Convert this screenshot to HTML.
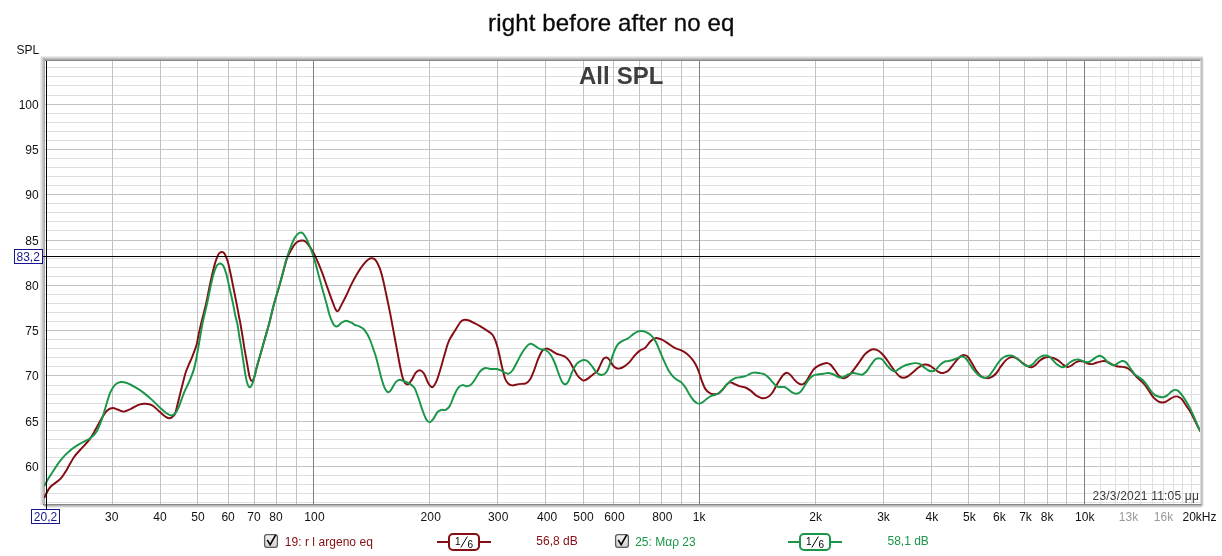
<!DOCTYPE html>
<html><head><meta charset="utf-8"><title>right before after no eq</title>
<style>
html,body{margin:0;padding:0;background:#fff;}
body{width:1222px;height:556px;position:relative;overflow:hidden;font-family:"Liberation Sans",sans-serif;}
svg text{font-family:"Liberation Sans",sans-serif;}
</style></head><body>
<svg width="1222" height="556" viewBox="0 0 1222 556" style="position:absolute;left:0;top:0;will-change:transform">
<defs>
<linearGradient id="gt" x1="0" y1="0" x2="0" y2="1"><stop offset="0" stop-color="#f4f4f4"/><stop offset="0.5" stop-color="#c4c4c4"/><stop offset="1" stop-color="#7c7c7c"/></linearGradient>
<linearGradient id="gl" x1="0" y1="0" x2="1" y2="0"><stop offset="0" stop-color="#f6f6f6"/><stop offset="1" stop-color="#a4a4a4"/></linearGradient>
<linearGradient id="gr" x1="0" y1="0" x2="1" y2="0"><stop offset="0" stop-color="#a8a8a8"/><stop offset="1" stop-color="#f4f4f4"/></linearGradient>
<linearGradient id="gb" x1="0" y1="0" x2="0" y2="1"><stop offset="0" stop-color="#8c8c8c"/><stop offset="1" stop-color="#fafafa"/></linearGradient>
<linearGradient id="cb" x1="0" y1="0" x2="0" y2="1"><stop offset="0" stop-color="#f4f4f4"/><stop offset="0.5" stop-color="#e4e4e4"/><stop offset="1" stop-color="#cfcfcf"/></linearGradient>
<clipPath id="cp"><rect x="44" y="61" width="1156" height="442"/></clipPath>
</defs>
<rect x="41" y="56" width="1162" height="5" fill="url(#gt)"/>
<rect x="40" y="58" width="5" height="447" fill="url(#gl)"/>
<rect x="1200" y="59" width="1" height="447" fill="#bdbdbd"/>
<rect x="1201" y="59" width="1" height="447" fill="#bebebe"/>
<rect x="1202" y="59" width="1" height="447" fill="#cfcfcf"/>
<rect x="1203" y="59" width="1" height="447" fill="#ececec"/>
<rect x="43" y="504" width="1158" height="1" fill="#878787"/>
<rect x="43" y="505" width="1158" height="1" fill="#b2b2b2"/>
<rect x="44" y="506" width="1158" height="1" fill="#d0d0d0"/>
<rect x="44" y="507" width="1158" height="1" fill="#ececec"/>
<rect x="45" y="61" width="1155" height="443" fill="#fff"/>
<rect x="45" y="502" width="1155" height="1" fill="#dedede"/>
<rect x="45" y="493" width="1155" height="1" fill="#dedede"/>
<rect x="45" y="484" width="1155" height="1" fill="#dedede"/>
<rect x="45" y="475" width="1155" height="1" fill="#dedede"/>
<rect x="45" y="466" width="1155" height="1" fill="#c2c2c2"/>
<rect x="45" y="457" width="1155" height="1" fill="#dedede"/>
<rect x="45" y="448" width="1155" height="1" fill="#dedede"/>
<rect x="45" y="439" width="1155" height="1" fill="#dedede"/>
<rect x="45" y="430" width="1155" height="1" fill="#dedede"/>
<rect x="45" y="421" width="1155" height="1" fill="#c2c2c2"/>
<rect x="45" y="412" width="1155" height="1" fill="#dedede"/>
<rect x="45" y="403" width="1155" height="1" fill="#dedede"/>
<rect x="45" y="394" width="1155" height="1" fill="#dedede"/>
<rect x="45" y="385" width="1155" height="1" fill="#dedede"/>
<rect x="45" y="375" width="1155" height="1" fill="#c2c2c2"/>
<rect x="45" y="366" width="1155" height="1" fill="#dedede"/>
<rect x="45" y="357" width="1155" height="1" fill="#dedede"/>
<rect x="45" y="348" width="1155" height="1" fill="#dedede"/>
<rect x="45" y="339" width="1155" height="1" fill="#dedede"/>
<rect x="45" y="330" width="1155" height="1" fill="#c2c2c2"/>
<rect x="45" y="321" width="1155" height="1" fill="#dedede"/>
<rect x="45" y="312" width="1155" height="1" fill="#dedede"/>
<rect x="45" y="303" width="1155" height="1" fill="#dedede"/>
<rect x="45" y="294" width="1155" height="1" fill="#dedede"/>
<rect x="45" y="285" width="1155" height="1" fill="#c2c2c2"/>
<rect x="45" y="276" width="1155" height="1" fill="#dedede"/>
<rect x="45" y="267" width="1155" height="1" fill="#dedede"/>
<rect x="45" y="258" width="1155" height="1" fill="#dedede"/>
<rect x="45" y="249" width="1155" height="1" fill="#dedede"/>
<rect x="45" y="240" width="1155" height="1" fill="#c2c2c2"/>
<rect x="45" y="230" width="1155" height="1" fill="#dedede"/>
<rect x="45" y="221" width="1155" height="1" fill="#dedede"/>
<rect x="45" y="212" width="1155" height="1" fill="#dedede"/>
<rect x="45" y="203" width="1155" height="1" fill="#dedede"/>
<rect x="45" y="194" width="1155" height="1" fill="#c2c2c2"/>
<rect x="45" y="185" width="1155" height="1" fill="#dedede"/>
<rect x="45" y="176" width="1155" height="1" fill="#dedede"/>
<rect x="45" y="167" width="1155" height="1" fill="#dedede"/>
<rect x="45" y="158" width="1155" height="1" fill="#dedede"/>
<rect x="45" y="149" width="1155" height="1" fill="#c2c2c2"/>
<rect x="45" y="140" width="1155" height="1" fill="#dedede"/>
<rect x="45" y="131" width="1155" height="1" fill="#dedede"/>
<rect x="45" y="122" width="1155" height="1" fill="#dedede"/>
<rect x="45" y="113" width="1155" height="1" fill="#dedede"/>
<rect x="45" y="104" width="1155" height="1" fill="#c2c2c2"/>
<rect x="45" y="95" width="1155" height="1" fill="#dedede"/>
<rect x="45" y="85" width="1155" height="1" fill="#dedede"/>
<rect x="45" y="76" width="1155" height="1" fill="#dedede"/>
<rect x="45" y="67" width="1155" height="1" fill="#dedede"/>
<rect x="112" y="61" width="1" height="443" fill="#c2c2c2"/>
<rect x="160" y="61" width="1" height="443" fill="#c2c2c2"/>
<rect x="197" y="61" width="1" height="443" fill="#c2c2c2"/>
<rect x="228" y="61" width="1" height="443" fill="#c2c2c2"/>
<rect x="254" y="61" width="1" height="443" fill="#c2c2c2"/>
<rect x="276" y="61" width="1" height="443" fill="#c2c2c2"/>
<rect x="296" y="61" width="1" height="443" fill="#c2c2c2"/>
<rect x="313" y="61" width="1" height="443" fill="#808080"/>
<rect x="429" y="61" width="1" height="443" fill="#c2c2c2"/>
<rect x="497" y="61" width="1" height="443" fill="#c2c2c2"/>
<rect x="545" y="61" width="1" height="443" fill="#c2c2c2"/>
<rect x="583" y="61" width="1" height="443" fill="#c2c2c2"/>
<rect x="613" y="61" width="1" height="443" fill="#c2c2c2"/>
<rect x="639" y="61" width="1" height="443" fill="#c2c2c2"/>
<rect x="661" y="61" width="1" height="443" fill="#c2c2c2"/>
<rect x="681" y="61" width="1" height="443" fill="#c2c2c2"/>
<rect x="699" y="61" width="1" height="443" fill="#808080"/>
<rect x="815" y="61" width="1" height="443" fill="#c2c2c2"/>
<rect x="883" y="61" width="1" height="443" fill="#c2c2c2"/>
<rect x="931" y="61" width="1" height="443" fill="#c2c2c2"/>
<rect x="968" y="61" width="1" height="443" fill="#c2c2c2"/>
<rect x="999" y="61" width="1" height="443" fill="#c2c2c2"/>
<rect x="1024" y="61" width="1" height="443" fill="#c2c2c2"/>
<rect x="1047" y="61" width="1" height="443" fill="#c2c2c2"/>
<rect x="1066" y="61" width="1" height="443" fill="#c2c2c2"/>
<rect x="1084" y="61" width="1" height="443" fill="#808080"/>
<rect x="1100" y="61" width="1" height="443" fill="#dedede"/>
<rect x="1115" y="61" width="1" height="443" fill="#dedede"/>
<rect x="1128" y="61" width="1" height="443" fill="#dedede"/>
<rect x="1140" y="61" width="1" height="443" fill="#dedede"/>
<rect x="1152" y="61" width="1" height="443" fill="#dedede"/>
<rect x="1163" y="61" width="1" height="443" fill="#dedede"/>
<rect x="1173" y="61" width="1" height="443" fill="#dedede"/>
<rect x="1182" y="61" width="1" height="443" fill="#dedede"/>
<rect x="1191" y="61" width="1" height="443" fill="#dedede"/>
<rect x="1200" y="61" width="1" height="443" fill="#dedede"/>
<text x="578.9" y="83.8" font-family="Liberation Sans, sans-serif" font-weight="bold" font-size="24" letter-spacing="0.1" fill="#3e3e3e">All SPL</text>
<text x="1092.6" y="499.7" font-family="Liberation Sans, sans-serif" font-size="12" letter-spacing="0.19" fill="#3a3a3a">23/3/2021 11:05 μμ</text>
<g clip-path="url(#cp)" fill="none" stroke-width="1.95" stroke-linejoin="round" stroke-linecap="round">
<path d="M44.50 497.30C45.47 495.58 47.60 490.10 50.30 487.00C53.00 483.90 57.93 481.63 60.70 478.70C63.47 475.77 64.67 473.02 66.90 469.40C69.13 465.78 71.70 460.45 74.10 457.00C76.50 453.55 78.72 451.63 81.30 448.70C83.88 445.77 87.18 442.67 89.60 439.40C92.02 436.13 93.73 432.72 95.80 429.10C97.87 425.48 100.10 420.80 102.00 417.70C103.90 414.60 105.43 412.12 107.20 410.50C108.97 408.88 110.87 408.17 112.60 408.00C114.33 407.83 115.73 408.90 117.60 409.50C119.47 410.10 121.57 411.72 123.80 411.60C126.03 411.48 128.42 409.97 131.00 408.80C133.58 407.63 136.88 405.43 139.30 404.60C141.72 403.77 143.35 403.67 145.50 403.80C147.65 403.93 149.88 404.12 152.20 405.40C154.52 406.68 157.17 409.62 159.40 411.50C161.63 413.38 163.83 415.57 165.60 416.70C167.37 417.83 168.53 418.62 170.00 418.30C171.47 417.98 173.42 416.02 174.40 414.80C175.38 413.58 175.30 413.07 175.90 411.00C176.50 408.93 177.20 405.63 178.00 402.40C178.80 399.17 179.78 395.23 180.70 391.60C181.62 387.97 182.63 383.90 183.50 380.60C184.37 377.30 185.02 374.47 185.90 371.80C186.78 369.13 187.83 366.88 188.80 364.60C189.77 362.32 190.75 360.38 191.70 358.10C192.65 355.82 193.67 353.17 194.50 350.90C195.33 348.63 196.10 346.77 196.70 344.50C197.30 342.23 197.62 339.70 198.10 337.30C198.58 334.90 199.05 332.57 199.60 330.10C200.15 327.63 200.28 327.08 201.40 322.50C202.52 317.92 205.00 308.32 206.30 302.60C207.60 296.88 208.17 293.10 209.20 288.20C210.23 283.30 211.43 277.67 212.50 273.20C213.57 268.73 214.63 264.50 215.60 261.40C216.57 258.30 217.55 256.07 218.30 254.60C219.05 253.13 219.52 253.03 220.10 252.60C220.68 252.17 221.23 252.00 221.80 252.00C222.37 252.00 222.93 252.13 223.50 252.60C224.07 253.07 224.48 253.27 225.20 254.80C225.92 256.33 226.92 258.72 227.80 261.80C228.68 264.88 229.55 268.90 230.50 273.30C231.45 277.70 232.52 283.32 233.50 288.20C234.48 293.08 235.48 297.88 236.40 302.60C237.32 307.32 238.35 313.10 239.00 316.50C239.65 319.90 239.60 319.02 240.30 323.00C241.00 326.98 242.50 336.10 243.20 340.40C243.90 344.70 243.83 344.90 244.50 348.80C245.17 352.70 246.37 359.18 247.20 363.80C248.03 368.42 248.72 373.63 249.50 376.50C250.28 379.37 251.10 380.92 251.90 381.00C252.70 381.08 253.45 379.42 254.30 377.00C255.15 374.58 255.92 370.45 257.00 366.50C258.08 362.55 259.55 357.72 260.80 353.30C262.05 348.88 263.05 345.18 264.50 340.00C265.95 334.82 267.97 328.00 269.50 322.20C271.03 316.40 271.92 311.75 273.70 305.20C275.48 298.65 278.22 289.93 280.20 282.90C282.18 275.87 284.40 267.25 285.60 263.00C286.80 258.75 286.50 259.53 287.40 257.40C288.30 255.27 289.68 252.48 291.00 250.20C292.32 247.92 293.98 245.22 295.30 243.70C296.62 242.18 297.82 241.63 298.90 241.10C299.98 240.57 300.72 240.43 301.80 240.50C302.88 240.57 304.08 240.48 305.40 241.50C306.72 242.52 308.27 244.55 309.70 246.60C311.13 248.65 312.57 251.05 314.00 253.80C315.43 256.55 316.87 259.75 318.30 263.10C319.73 266.45 321.17 270.05 322.60 273.90C324.03 277.75 325.52 282.30 326.90 286.20C328.28 290.10 329.78 294.22 330.90 297.30C332.02 300.38 332.83 302.70 333.60 304.70C334.37 306.70 334.90 308.20 335.50 309.30C336.10 310.40 336.63 311.18 337.20 311.30C337.77 311.42 338.30 310.87 338.90 310.00C339.50 309.13 339.72 308.22 340.80 306.10C341.88 303.98 343.63 300.92 345.40 297.30C347.17 293.68 349.42 288.37 351.40 284.40C353.38 280.43 355.32 276.80 357.30 273.50C359.28 270.20 361.42 266.97 363.30 264.60C365.18 262.23 367.13 260.35 368.60 259.30C370.07 258.25 370.90 258.13 372.10 258.30C373.30 258.47 374.50 258.58 375.80 260.30C377.10 262.02 378.68 265.32 379.90 268.60C381.12 271.88 382.05 275.70 383.10 280.00C384.15 284.30 385.00 288.72 386.20 294.40C387.40 300.08 388.95 307.25 390.30 314.10C391.65 320.95 393.13 329.27 394.30 335.50C395.47 341.73 396.30 346.17 397.30 351.50C398.30 356.83 399.28 362.77 400.30 367.50C401.32 372.23 402.20 377.07 403.40 379.90C404.60 382.73 406.12 384.50 407.50 384.50C408.88 384.50 410.32 381.87 411.70 379.90C413.08 377.93 414.43 374.32 415.80 372.70C417.17 371.08 418.52 370.03 419.90 370.20C421.28 370.37 422.72 371.57 424.10 373.70C425.48 375.83 426.82 380.75 428.20 383.00C429.58 385.25 431.02 387.50 432.40 387.20C433.78 386.90 435.20 384.07 436.50 381.20C437.80 378.33 438.98 373.98 440.20 370.00C441.42 366.02 442.52 361.72 443.80 357.30C445.08 352.88 446.70 346.88 447.90 343.50C449.10 340.12 449.92 338.98 451.00 337.00C452.08 335.02 452.88 334.02 454.40 331.60C455.92 329.18 458.67 324.40 460.10 322.50C461.53 320.60 462.15 320.67 463.00 320.20C463.85 319.73 464.20 319.65 465.20 319.70C466.20 319.75 467.37 319.88 469.00 320.50C470.63 321.12 473.17 322.45 475.00 323.40C476.83 324.35 477.80 324.87 480.00 326.20C482.20 327.53 486.15 330.02 488.20 331.40C490.25 332.78 491.10 332.95 492.30 334.50C493.50 336.05 494.37 337.95 495.40 340.70C496.43 343.45 497.43 346.78 498.50 351.00C499.57 355.22 500.72 361.42 501.80 366.00C502.88 370.58 503.93 375.58 505.00 378.50C506.07 381.42 507.00 382.35 508.20 383.50C509.40 384.65 510.47 385.30 512.20 385.40C513.93 385.50 516.33 384.45 518.60 384.10C520.87 383.75 523.90 384.05 525.80 383.30C527.70 382.55 528.62 381.77 530.00 379.60C531.38 377.43 532.73 373.75 534.10 370.30C535.47 366.85 536.82 362.18 538.20 358.90C539.58 355.62 541.02 352.32 542.40 350.60C543.78 348.88 545.13 348.67 546.50 348.60C547.87 348.53 549.05 349.42 550.60 350.20C552.15 350.98 554.07 352.47 555.80 353.30C557.53 354.13 559.45 354.62 561.00 355.20C562.55 355.78 563.72 355.83 565.10 356.80C566.48 357.77 567.92 359.10 569.30 361.00C570.68 362.90 572.03 365.78 573.40 368.20C574.77 370.62 576.12 373.60 577.50 375.50C578.88 377.40 580.67 378.75 581.70 379.60C582.73 380.45 582.67 380.77 583.70 380.60C584.73 380.43 586.35 379.63 587.90 378.60C589.45 377.57 591.45 375.62 593.00 374.40C594.55 373.18 595.98 372.85 597.20 371.30C598.42 369.75 599.27 367.17 600.30 365.10C601.33 363.03 602.37 360.17 603.40 358.90C604.43 357.63 605.47 357.32 606.50 357.50C607.53 357.68 608.57 358.73 609.60 360.00C610.63 361.27 611.67 363.80 612.70 365.10C613.73 366.40 614.77 367.22 615.80 367.80C616.83 368.38 617.53 368.80 618.90 368.60C620.27 368.40 622.28 367.63 624.00 366.60C625.72 365.57 627.47 364.20 629.20 362.40C630.93 360.60 632.63 357.77 634.40 355.80C636.17 353.83 638.00 351.93 639.80 350.60C641.60 349.27 643.48 349.27 645.20 347.80C646.92 346.33 648.52 343.37 650.10 341.80C651.68 340.23 653.42 339.00 654.70 338.40C655.98 337.80 656.47 337.93 657.80 338.20C659.13 338.47 660.85 339.02 662.70 340.00C664.55 340.98 666.83 342.73 668.90 344.10C670.97 345.47 673.03 347.17 675.10 348.20C677.17 349.23 679.40 349.43 681.30 350.30C683.20 351.17 684.77 352.02 686.50 353.40C688.23 354.78 690.15 356.70 691.70 358.60C693.25 360.50 694.60 362.57 695.80 364.80C697.00 367.03 697.87 369.25 698.90 372.00C699.93 374.75 700.97 378.53 702.00 381.30C703.03 384.07 703.88 386.70 705.10 388.60C706.32 390.50 707.92 391.75 709.30 392.70C710.68 393.65 711.85 394.20 713.40 394.30C714.95 394.40 717.05 394.08 718.60 393.30C720.15 392.52 721.33 391.08 722.70 389.60C724.07 388.12 725.53 385.60 726.80 384.40C728.07 383.20 729.08 382.50 730.30 382.40C731.52 382.30 732.62 383.18 734.10 383.80C735.58 384.42 737.32 385.48 739.20 386.10C741.08 386.72 743.50 386.75 745.40 387.50C747.30 388.25 748.87 389.32 750.60 390.60C752.33 391.88 754.25 394.07 755.80 395.20C757.35 396.33 758.60 396.88 759.90 397.40C761.20 397.92 762.22 398.40 763.60 398.30C764.98 398.20 766.75 397.73 768.20 396.80C769.65 395.87 770.93 394.58 772.30 392.70C773.67 390.82 775.07 387.78 776.40 385.50C777.73 383.22 779.13 380.78 780.30 379.00C781.47 377.22 782.32 375.83 783.40 374.80C784.48 373.77 785.60 372.75 786.80 372.80C788.00 372.85 789.28 373.88 790.60 375.10C791.92 376.32 793.37 378.72 794.70 380.10C796.03 381.48 797.33 382.68 798.60 383.40C799.87 384.12 801.10 384.65 802.30 384.40C803.50 384.15 804.52 383.45 805.80 381.90C807.08 380.35 808.62 377.27 810.00 375.10C811.38 372.93 812.73 370.45 814.10 368.90C815.47 367.35 816.65 366.67 818.20 365.80C819.75 364.93 821.85 364.15 823.40 363.70C824.95 363.25 826.30 362.92 827.50 363.10C828.70 363.28 829.38 363.65 830.60 364.80C831.82 365.95 833.42 368.18 834.80 370.00C836.18 371.82 837.35 374.33 838.90 375.70C840.45 377.07 842.37 378.30 844.10 378.20C845.83 378.10 847.58 376.65 849.30 375.10C851.02 373.55 852.68 371.13 854.40 368.90C856.12 366.67 857.87 364.12 859.60 361.70C861.33 359.28 863.08 356.30 864.80 354.40C866.52 352.50 868.35 351.15 869.90 350.30C871.45 349.45 872.55 349.13 874.10 349.30C875.65 349.47 877.48 350.10 879.20 351.30C880.92 352.50 882.67 354.43 884.40 356.50C886.13 358.57 887.88 361.28 889.60 363.70C891.32 366.12 892.98 368.85 894.70 371.00C896.42 373.15 898.35 375.47 899.90 376.60C901.45 377.73 902.62 377.87 904.00 377.80C905.38 377.73 906.65 377.17 908.20 376.20C909.75 375.23 911.58 373.45 913.30 372.00C915.02 370.55 916.82 368.70 918.50 367.50C920.18 366.30 921.90 365.25 923.40 364.80C924.90 364.35 926.13 364.47 927.50 364.80C928.87 365.13 930.22 365.90 931.60 366.80C932.98 367.70 934.43 369.25 935.80 370.20C937.17 371.15 938.57 372.03 939.80 372.50C941.03 372.97 941.85 373.25 943.20 373.00C944.55 372.75 946.25 372.37 947.90 371.00C949.55 369.63 951.55 366.70 953.10 364.80C954.65 362.90 955.83 361.08 957.20 359.60C958.57 358.12 960.10 356.65 961.30 355.90C962.50 355.15 963.37 355.00 964.40 355.10C965.43 355.20 966.28 355.23 967.50 356.50C968.72 357.77 970.32 360.45 971.70 362.70C973.08 364.95 974.25 367.75 975.80 370.00C977.35 372.25 979.45 374.90 981.00 376.20C982.55 377.50 983.90 377.47 985.10 377.80C986.30 378.13 986.98 378.40 988.20 378.20C989.42 378.00 991.02 377.47 992.40 376.60C993.78 375.73 995.13 374.63 996.50 373.00C997.87 371.37 999.22 368.75 1000.60 366.80C1001.98 364.85 1003.42 362.77 1004.80 361.30C1006.18 359.83 1007.53 358.70 1008.90 358.00C1010.27 357.30 1011.62 357.00 1013.00 357.10C1014.38 357.20 1015.65 357.67 1017.20 358.60C1018.75 359.53 1020.58 361.43 1022.30 362.70C1024.02 363.97 1025.95 365.43 1027.50 366.20C1029.05 366.97 1030.22 367.53 1031.60 367.30C1032.98 367.07 1034.42 365.92 1035.80 364.80C1037.18 363.68 1038.53 361.73 1039.90 360.60C1041.27 359.47 1042.62 358.58 1044.00 358.00C1045.38 357.42 1046.65 357.10 1048.20 357.10C1049.75 357.10 1051.58 357.42 1053.30 358.00C1055.02 358.58 1056.82 359.45 1058.50 360.60C1060.18 361.75 1061.90 363.83 1063.40 364.90C1064.90 365.97 1066.17 366.88 1067.50 367.00C1068.83 367.12 1070.07 366.35 1071.40 365.60C1072.73 364.85 1074.13 363.27 1075.50 362.50C1076.87 361.73 1078.22 361.15 1079.60 361.00C1080.98 360.85 1082.42 361.18 1083.80 361.60C1085.18 362.02 1086.53 363.08 1087.90 363.50C1089.27 363.92 1090.62 364.23 1092.00 364.10C1093.38 363.97 1094.82 363.12 1096.20 362.70C1097.58 362.28 1098.93 361.88 1100.30 361.60C1101.67 361.32 1103.02 360.85 1104.40 361.00C1105.78 361.15 1107.22 361.88 1108.60 362.50C1109.98 363.12 1111.33 364.08 1112.70 364.70C1114.07 365.32 1115.42 365.85 1116.80 366.20C1118.18 366.55 1119.62 366.63 1121.00 366.80C1122.38 366.97 1123.72 366.78 1125.10 367.20C1126.48 367.62 1127.92 368.28 1129.30 369.30C1130.68 370.32 1132.03 371.87 1133.40 373.30C1134.77 374.73 1136.12 376.52 1137.50 377.90C1138.88 379.28 1140.32 380.23 1141.70 381.60C1143.08 382.97 1144.43 384.32 1145.80 386.10C1147.17 387.88 1148.52 390.28 1149.90 392.30C1151.28 394.32 1152.72 396.70 1154.10 398.20C1155.48 399.70 1156.83 400.60 1158.20 401.30C1159.57 402.00 1160.92 402.40 1162.30 402.40C1163.68 402.40 1165.12 401.93 1166.50 401.30C1167.88 400.67 1169.23 399.38 1170.60 398.60C1171.97 397.82 1173.50 396.93 1174.70 396.60C1175.90 396.27 1176.58 396.15 1177.80 396.60C1179.02 397.05 1180.62 397.82 1182.00 399.30C1183.38 400.78 1184.73 403.45 1186.10 405.50C1187.47 407.55 1188.82 409.25 1190.20 411.60C1191.58 413.95 1193.18 417.20 1194.40 419.60C1195.62 422.00 1196.53 424.10 1197.50 426.00C1198.47 427.90 1199.75 430.17 1200.20 431.00" stroke="#850d14"/>
<path d="M44.50 485.50C45.47 483.85 47.60 479.83 50.30 475.60C53.00 471.37 57.25 464.40 60.70 460.10C64.15 455.80 67.57 452.65 71.00 449.80C74.43 446.95 78.03 444.97 81.30 443.00C84.57 441.03 88.02 439.97 90.60 438.00C93.18 436.03 94.90 434.40 96.80 431.20C98.70 428.00 100.60 422.58 102.00 418.80C103.40 415.02 103.82 412.92 105.20 408.50C106.58 404.08 108.58 396.32 110.30 392.30C112.02 388.28 113.77 386.12 115.50 384.40C117.23 382.68 118.80 382.23 120.70 382.00C122.60 381.77 124.50 382.13 126.90 383.00C129.30 383.87 132.35 385.60 135.10 387.20C137.85 388.80 140.63 390.53 143.40 392.60C146.17 394.67 148.93 397.08 151.70 399.60C154.47 402.12 157.60 405.47 160.00 407.70C162.40 409.93 164.30 411.72 166.10 413.00C167.90 414.28 169.35 415.28 170.80 415.40C172.25 415.52 173.60 414.80 174.80 413.70C176.00 412.60 176.92 411.05 178.00 408.80C179.08 406.55 180.22 403.07 181.30 400.20C182.38 397.33 183.37 394.30 184.50 391.60C185.63 388.90 187.03 386.33 188.10 384.00C189.17 381.67 189.95 380.00 190.90 377.60C191.85 375.20 192.95 372.48 193.80 369.60C194.65 366.72 195.35 363.42 196.00 360.30C196.65 357.18 197.10 354.27 197.70 350.90C198.30 347.53 199.00 343.57 199.60 340.10C200.20 336.63 200.78 333.03 201.30 330.10C201.82 327.17 201.70 327.08 202.70 322.50C203.70 317.92 206.05 308.32 207.30 302.60C208.55 296.88 209.17 292.93 210.20 288.20C211.23 283.47 212.47 277.83 213.50 274.20C214.53 270.57 215.60 268.07 216.40 266.40C217.20 264.73 217.68 264.70 218.30 264.20C218.92 263.70 219.50 263.40 220.10 263.40C220.70 263.40 221.32 263.70 221.90 264.20C222.48 264.70 222.85 264.72 223.60 266.40C224.35 268.08 225.40 270.67 226.40 274.30C227.40 277.93 228.53 283.48 229.60 288.20C230.67 292.92 231.80 297.80 232.80 302.60C233.80 307.40 234.85 313.52 235.60 317.00C236.35 320.48 236.63 320.00 237.30 323.50C237.97 327.00 238.90 333.78 239.60 338.00C240.30 342.22 240.45 342.20 241.50 348.80C242.55 355.40 244.60 371.20 245.90 377.60C247.20 384.00 248.12 386.47 249.30 387.20C250.48 387.93 251.70 385.62 253.00 382.00C254.30 378.38 255.80 370.33 257.10 365.50C258.40 360.67 259.57 357.25 260.80 353.00C262.03 348.75 263.05 345.13 264.50 340.00C265.95 334.87 267.97 328.03 269.50 322.20C271.03 316.37 271.92 311.60 273.70 305.00C275.48 298.40 278.17 289.93 280.20 282.60C282.23 275.27 284.22 266.77 285.90 261.00C287.58 255.23 288.85 251.83 290.30 248.00C291.75 244.17 293.28 240.40 294.60 238.00C295.92 235.60 297.25 234.50 298.20 233.60C299.15 232.70 299.47 232.60 300.30 232.60C301.13 232.60 302.12 232.47 303.20 233.60C304.28 234.73 305.60 237.00 306.80 239.40C308.00 241.80 309.20 244.88 310.40 248.00C311.60 251.12 312.68 253.78 314.00 258.10C315.32 262.42 316.87 268.63 318.30 273.90C319.73 279.17 321.17 284.52 322.60 289.70C324.03 294.88 325.73 300.75 326.90 305.00C328.07 309.25 328.60 312.15 329.60 315.20C330.60 318.25 332.03 321.53 332.90 323.30C333.77 325.07 334.18 325.27 334.80 325.80C335.42 326.33 335.98 326.53 336.60 326.50C337.22 326.47 337.80 326.12 338.50 325.60C339.20 325.08 339.58 324.22 340.80 323.40C342.02 322.58 344.00 320.82 345.80 320.70C347.60 320.58 350.07 321.98 351.60 322.70C353.13 323.42 353.72 324.40 355.00 325.00C356.28 325.60 357.87 325.63 359.30 326.30C360.73 326.97 362.28 327.72 363.60 329.00C364.92 330.28 366.12 332.17 367.20 334.00C368.28 335.83 369.13 337.65 370.10 340.00C371.07 342.35 372.03 345.32 373.00 348.10C373.97 350.88 374.95 353.47 375.90 356.70C376.85 359.93 377.75 363.78 378.70 367.50C379.65 371.22 380.63 375.65 381.60 379.00C382.57 382.35 383.67 385.60 384.50 387.60C385.33 389.60 385.95 390.23 386.60 391.00C387.25 391.77 387.78 392.23 388.40 392.20C389.02 392.17 389.63 391.57 390.30 390.80C390.97 390.03 391.45 389.08 392.40 387.60C393.35 386.12 394.80 383.22 396.00 381.90C397.20 380.58 398.28 379.82 399.60 379.70C400.92 379.58 402.22 380.55 403.90 381.20C405.58 381.85 407.98 382.53 409.70 383.60C411.42 384.67 412.83 385.45 414.20 387.60C415.57 389.75 416.60 392.95 417.90 396.50C419.20 400.05 420.62 405.12 422.00 408.90C423.38 412.68 424.92 416.97 426.20 419.20C427.48 421.43 428.50 422.37 429.70 422.30C430.90 422.23 432.10 420.52 433.40 418.80C434.70 417.08 436.12 413.48 437.50 412.00C438.88 410.52 440.32 410.25 441.70 409.90C443.08 409.55 444.43 410.58 445.80 409.90C447.17 409.22 448.52 408.20 449.90 405.80C451.28 403.40 452.72 398.50 454.10 395.50C455.48 392.50 456.83 389.53 458.20 387.80C459.57 386.07 460.92 385.37 462.30 385.10C463.68 384.83 465.12 386.20 466.50 386.20C467.88 386.20 469.23 386.15 470.60 385.10C471.97 384.05 473.15 382.13 474.70 379.90C476.25 377.67 478.17 373.68 479.90 371.70C481.63 369.72 483.38 368.45 485.10 368.00C486.82 367.55 488.32 368.83 490.20 369.00C492.08 369.17 494.55 368.73 496.40 369.00C498.25 369.27 499.83 369.95 501.30 370.60C502.77 371.25 503.95 372.40 505.20 372.90C506.45 373.40 507.57 374.03 508.80 373.60C510.03 373.17 511.13 372.40 512.60 370.30C514.07 368.20 515.92 364.10 517.60 361.00C519.28 357.90 520.98 354.35 522.70 351.70C524.42 349.05 526.52 346.42 527.90 345.10C529.28 343.78 529.80 343.67 531.00 343.80C532.20 343.93 533.55 345.00 535.10 345.90C536.65 346.80 538.57 348.52 540.30 349.20C542.03 349.88 543.78 349.07 545.50 350.00C547.22 350.93 549.05 352.63 550.60 354.80C552.15 356.97 553.42 359.73 554.80 363.00C556.18 366.27 557.70 371.28 558.90 374.40C560.10 377.52 560.97 380.05 562.00 381.70C563.03 383.35 564.07 384.30 565.10 384.30C566.13 384.30 566.98 383.87 568.20 381.70C569.42 379.53 571.02 374.23 572.40 371.30C573.78 368.37 575.13 365.82 576.50 364.10C577.87 362.38 579.30 361.68 580.60 361.00C581.90 360.32 583.08 359.93 584.30 360.00C585.52 360.07 586.62 360.37 587.90 361.40C589.18 362.43 590.63 364.45 592.00 366.20C593.37 367.95 594.72 370.47 596.10 371.90C597.48 373.33 598.92 374.45 600.30 374.80C601.68 375.15 603.20 374.75 604.40 374.00C605.60 373.25 606.47 372.30 607.50 370.30C608.53 368.30 609.57 364.93 610.60 362.00C611.63 359.07 612.50 355.63 613.70 352.70C614.90 349.77 616.25 346.40 617.80 344.40C619.35 342.40 621.27 341.73 623.00 340.70C624.73 339.67 626.48 339.30 628.20 338.20C629.92 337.10 631.75 335.20 633.30 334.10C634.85 333.00 636.17 332.12 637.50 331.60C638.83 331.08 639.97 330.97 641.30 331.00C642.63 331.03 644.13 331.30 645.50 331.80C646.87 332.30 648.27 333.07 649.50 334.00C650.73 334.93 651.75 335.90 652.90 337.40C654.05 338.90 655.15 340.48 656.40 343.00C657.65 345.52 659.00 349.22 660.40 352.50C661.80 355.78 663.38 359.62 664.80 362.70C666.22 365.78 667.52 368.68 668.90 371.00C670.28 373.32 671.72 375.12 673.10 376.60C674.48 378.08 675.83 378.93 677.20 379.90C678.57 380.87 679.92 381.13 681.30 382.40C682.68 383.67 684.12 385.43 685.50 387.50C686.88 389.57 688.23 392.63 689.60 394.80C690.97 396.97 692.50 399.13 693.70 400.50C694.90 401.87 695.83 402.48 696.80 403.00C697.77 403.52 698.47 403.77 699.50 403.60C700.53 403.43 701.72 402.85 703.00 402.00C704.28 401.15 705.82 399.53 707.20 398.50C708.58 397.47 709.92 396.42 711.30 395.80C712.68 395.18 714.12 395.32 715.50 394.80C716.88 394.28 718.23 393.82 719.60 392.70C720.97 391.58 722.32 389.65 723.70 388.10C725.08 386.55 726.52 384.77 727.90 383.40C729.28 382.03 730.63 380.83 732.00 379.90C733.37 378.97 734.72 378.25 736.10 377.80C737.48 377.35 738.75 377.47 740.30 377.20C741.85 376.93 743.85 376.72 745.40 376.20C746.95 375.68 748.22 374.70 749.60 374.10C750.98 373.50 752.15 372.78 753.70 372.60C755.25 372.42 757.18 372.75 758.90 373.00C760.62 373.25 762.45 373.40 764.00 374.10C765.55 374.80 766.82 375.90 768.20 377.20C769.58 378.50 770.93 380.42 772.30 381.90C773.67 383.38 775.05 385.25 776.40 386.10C777.75 386.95 779.07 386.85 780.40 387.00C781.73 387.15 783.05 386.57 784.40 387.00C785.75 387.43 787.13 388.65 788.50 389.60C789.87 390.55 791.30 392.02 792.60 392.70C793.90 393.38 794.98 393.83 796.30 393.70C797.62 393.57 799.08 393.27 800.50 391.90C801.92 390.53 803.40 387.60 804.80 385.50C806.20 383.40 807.52 380.93 808.90 379.30C810.28 377.67 811.72 376.50 813.10 375.70C814.48 374.90 815.48 374.83 817.20 374.50C818.92 374.17 821.50 373.95 823.40 373.70C825.30 373.45 826.88 372.87 828.60 373.00C830.32 373.13 831.98 373.80 833.70 374.50C835.42 375.20 837.35 376.75 838.90 377.20C840.45 377.65 841.45 377.65 843.00 377.20C844.55 376.75 846.47 375.20 848.20 374.50C849.93 373.80 851.67 373.07 853.40 373.00C855.13 372.93 857.05 373.85 858.60 374.10C860.15 374.35 861.33 375.02 862.70 374.50C864.07 373.98 865.42 372.62 866.80 371.00C868.18 369.38 869.62 366.70 871.00 364.80C872.38 362.90 873.80 360.70 875.10 359.60C876.40 358.50 877.60 358.20 878.80 358.20C880.00 358.20 881.02 358.50 882.30 359.60C883.58 360.70 885.12 363.18 886.50 364.80C887.88 366.42 889.23 368.20 890.60 369.30C891.97 370.40 893.32 371.47 894.70 371.40C896.08 371.33 897.35 369.83 898.90 368.90C900.45 367.97 902.28 366.58 904.00 365.80C905.72 365.02 907.30 364.65 909.20 364.20C911.10 363.75 913.55 363.10 915.40 363.10C917.25 363.10 918.80 363.43 920.30 364.20C921.80 364.97 923.03 366.65 924.40 367.70C925.77 368.75 927.18 369.90 928.50 370.50C929.82 371.10 931.07 371.42 932.30 371.30C933.53 371.18 934.68 370.78 935.90 369.80C937.12 368.82 938.28 366.68 939.60 365.40C940.92 364.12 942.42 362.82 943.80 362.10C945.18 361.38 946.53 361.42 947.90 361.10C949.27 360.78 950.62 360.62 952.00 360.20C953.38 359.78 954.82 359.15 956.20 358.60C957.58 358.05 959.27 357.25 960.30 356.90C961.33 356.55 961.53 356.32 962.40 356.50C963.27 356.68 964.30 356.80 965.50 358.00C966.70 359.20 968.23 361.70 969.60 363.70C970.97 365.70 972.32 368.20 973.70 370.00C975.08 371.80 976.52 373.30 977.90 374.50C979.28 375.70 980.70 376.65 982.00 377.20C983.30 377.75 984.48 378.05 985.70 377.80C986.92 377.55 988.02 377.00 989.30 375.70C990.58 374.40 992.03 372.00 993.40 370.00C994.77 368.00 996.12 365.60 997.50 363.70C998.88 361.80 1000.32 359.87 1001.70 358.60C1003.08 357.33 1004.43 356.62 1005.80 356.10C1007.17 355.58 1008.52 355.43 1009.90 355.50C1011.28 355.57 1012.55 355.65 1014.10 356.50C1015.65 357.35 1017.48 359.22 1019.20 360.60C1020.92 361.98 1022.85 363.87 1024.40 364.80C1025.95 365.73 1027.12 366.30 1028.50 366.20C1029.88 366.10 1031.32 365.30 1032.70 364.20C1034.08 363.10 1035.43 360.88 1036.80 359.60C1038.17 358.32 1039.52 357.18 1040.90 356.50C1042.28 355.82 1043.72 355.50 1045.10 355.50C1046.48 355.50 1047.83 355.65 1049.20 356.50C1050.57 357.35 1051.92 359.22 1053.30 360.60C1054.68 361.98 1056.08 363.70 1057.50 364.80C1058.92 365.90 1060.38 367.03 1061.80 367.20C1063.22 367.37 1064.55 366.67 1066.00 365.80C1067.45 364.93 1069.08 362.97 1070.50 362.00C1071.92 361.03 1073.22 360.43 1074.50 360.00C1075.78 359.57 1077.00 359.30 1078.20 359.40C1079.40 359.50 1080.43 360.17 1081.70 360.60C1082.97 361.03 1084.60 361.77 1085.80 362.00C1087.00 362.23 1087.68 362.43 1088.90 362.00C1090.12 361.57 1091.72 360.32 1093.10 359.40C1094.48 358.48 1096.07 357.10 1097.20 356.50C1098.33 355.90 1098.87 355.63 1099.90 355.80C1100.93 355.97 1102.13 356.47 1103.40 357.50C1104.67 358.53 1106.12 360.80 1107.50 362.00C1108.88 363.20 1110.48 364.18 1111.70 364.70C1112.92 365.22 1113.77 365.37 1114.80 365.10C1115.83 364.83 1116.87 363.72 1117.90 363.10C1118.93 362.48 1120.15 361.75 1121.00 361.40C1121.85 361.05 1122.13 360.82 1123.00 361.00C1123.87 361.18 1124.98 361.30 1126.20 362.50C1127.42 363.70 1128.93 366.32 1130.30 368.20C1131.67 370.08 1133.02 372.32 1134.40 373.80C1135.78 375.28 1137.22 376.07 1138.60 377.10C1139.98 378.13 1141.33 378.72 1142.70 380.00C1144.07 381.28 1145.42 382.97 1146.80 384.80C1148.18 386.63 1149.62 389.28 1151.00 391.00C1152.38 392.72 1153.73 394.13 1155.10 395.10C1156.47 396.07 1157.82 396.45 1159.20 396.80C1160.58 397.15 1162.02 397.48 1163.40 397.20C1164.78 396.92 1166.13 396.07 1167.50 395.10C1168.87 394.13 1170.40 392.27 1171.60 391.40C1172.80 390.53 1173.67 390.03 1174.70 389.90C1175.73 389.77 1176.58 389.73 1177.80 390.60C1179.02 391.47 1180.62 393.32 1182.00 395.10C1183.38 396.88 1184.73 399.05 1186.10 401.30C1187.47 403.55 1188.82 405.83 1190.20 408.60C1191.58 411.37 1193.18 415.15 1194.40 417.90C1195.62 420.65 1196.53 422.97 1197.50 425.10C1198.47 427.23 1199.75 429.77 1200.20 430.70" stroke="#1a9648"/>
</g>
<rect x="46" y="61" width="1" height="449" fill="#000"/>
<rect x="43" y="256" width="1157" height="1" fill="#000"/>
<rect x="14.5" y="249.5" width="28" height="14" fill="#fff" stroke="#16168e" stroke-width="1"/>
<text x="28.2" y="261.2" text-anchor="middle" font-family="Liberation Sans, sans-serif" font-size="12" fill="#16168e">83,2</text>
<rect x="31.5" y="509.5" width="28" height="14" fill="#fff" stroke="#16168e" stroke-width="1"/>
<text x="45.5" y="521.2" text-anchor="middle" font-family="Liberation Sans, sans-serif" font-size="12" fill="#16168e">20,2</text>
<g font-family="Liberation Sans, sans-serif" font-size="12" fill="#111" text-anchor="end">
<text x="38.7" y="470.9">60</text>
<text x="38.7" y="425.9">65</text>
<text x="38.7" y="379.9">70</text>
<text x="38.7" y="334.9">75</text>
<text x="38.7" y="289.9">80</text>
<text x="38.7" y="244.9">85</text>
<text x="38.7" y="198.9">90</text>
<text x="38.7" y="153.9">95</text>
<text x="38.7" y="108.9">100</text>
</g>
<text x="16.5" y="53.7" font-family="Liberation Sans, sans-serif" font-size="12" fill="#111">SPL</text>
<g font-family="Liberation Sans, sans-serif" font-size="12" fill="#111" text-anchor="middle">
<text x="111.80" y="520.7">30</text>
<text x="159.90" y="520.7">40</text>
<text x="198.00" y="520.7">50</text>
<text x="228.10" y="520.7">60</text>
<text x="254.00" y="520.7">70</text>
<text x="276.00" y="520.7">80</text>
<text x="314.50" y="520.7" letter-spacing="0.15">100</text>
<text x="430.80" y="520.7" letter-spacing="0.15">200</text>
<text x="498.30" y="520.7" letter-spacing="0.15">300</text>
<text x="547.20" y="520.7" letter-spacing="0.15">400</text>
<text x="583.60" y="520.7" letter-spacing="0.15">500</text>
<text x="614.50" y="520.7" letter-spacing="0.15">600</text>
<text x="662.40" y="520.7" letter-spacing="0.15">800</text>
<text x="699.20" y="520.7">1k</text>
<text x="815.60" y="520.7">2k</text>
<text x="883.50" y="520.7">3k</text>
<text x="931.80" y="520.7">4k</text>
<text x="969.30" y="520.7">5k</text>
<text x="999.40" y="520.7">6k</text>
<text x="1025.50" y="520.7">7k</text>
<text x="1047.10" y="520.7">8k</text>
<text x="1084.80" y="520.7">10k</text>
<text x="1128.5" y="520.7" fill="#9a9a9a">13k</text>
<text x="1163.5" y="520.7" fill="#9a9a9a">16k</text>
<text x="1199.5" y="520.7">20kHz</text>
</g>
<text x="488.1" y="30.7" font-family="Liberation Sans, sans-serif" font-size="24" letter-spacing="0.15" fill="#0a0a0a" stroke="#0a0a0a" stroke-width="0.3">right before after no eq</text>
<rect x="264.6" y="534.6" width="12.8" height="12.8" rx="2.4" fill="url(#cb)" stroke="#5c5c5c" stroke-width="1.3"/>
<path d="M267.20 539.90 L270.15 544.60 L275.70 534.90" fill="none" stroke="#000" stroke-width="1.6" stroke-linecap="butt" stroke-linejoin="miter"/>
<text x="284.7" letter-spacing="0.05" y="545.6" font-family="Liberation Sans, sans-serif" font-size="12" fill="#850d14">19: r l argeno eq</text>
<rect x="437.0" y="541" width="54.0" height="2" fill="#850d14"/>
<rect x="449.0" y="534" width="30.0" height="16" rx="4" fill="#fff" stroke="#850d14" stroke-width="2"/>
<text x="457.9" y="544.9" font-family="Liberation Sans, sans-serif" font-size="10" fill="#000" text-anchor="middle">1</text>
<path d="M460.8 547.5 L467.4 536.5" stroke="#000" stroke-width="1" fill="none"/>
<text x="470.4" y="548.1" font-family="Liberation Sans, sans-serif" font-size="10" fill="#000" text-anchor="middle">6</text>
<text x="536.3" y="545.4" font-family="Liberation Sans, sans-serif" font-size="12" fill="#850d14">56,8 dB</text>
<rect x="615.6" y="534.6" width="12.8" height="12.8" rx="2.4" fill="url(#cb)" stroke="#5c5c5c" stroke-width="1.3"/>
<path d="M618.20 539.90 L621.15 544.60 L626.70 534.90" fill="none" stroke="#000" stroke-width="1.6" stroke-linecap="butt" stroke-linejoin="miter"/>
<text x="635.2" y="545.6" font-family="Liberation Sans, sans-serif" font-size="12" fill="#1a9648">25: Μαρ 23</text>
<rect x="788.0" y="541" width="54.0" height="2" fill="#1a9648"/>
<rect x="800.0" y="534" width="30.0" height="16" rx="4" fill="#fff" stroke="#1a9648" stroke-width="2"/>
<text x="808.9" y="544.9" font-family="Liberation Sans, sans-serif" font-size="10" fill="#000" text-anchor="middle">1</text>
<path d="M811.8 547.5 L818.4 536.5" stroke="#000" stroke-width="1" fill="none"/>
<text x="821.4" y="548.1" font-family="Liberation Sans, sans-serif" font-size="10" fill="#000" text-anchor="middle">6</text>
<text x="887.5" y="545.4" font-family="Liberation Sans, sans-serif" font-size="12" fill="#1a9648">58,1 dB</text>
</svg>
</body></html>
